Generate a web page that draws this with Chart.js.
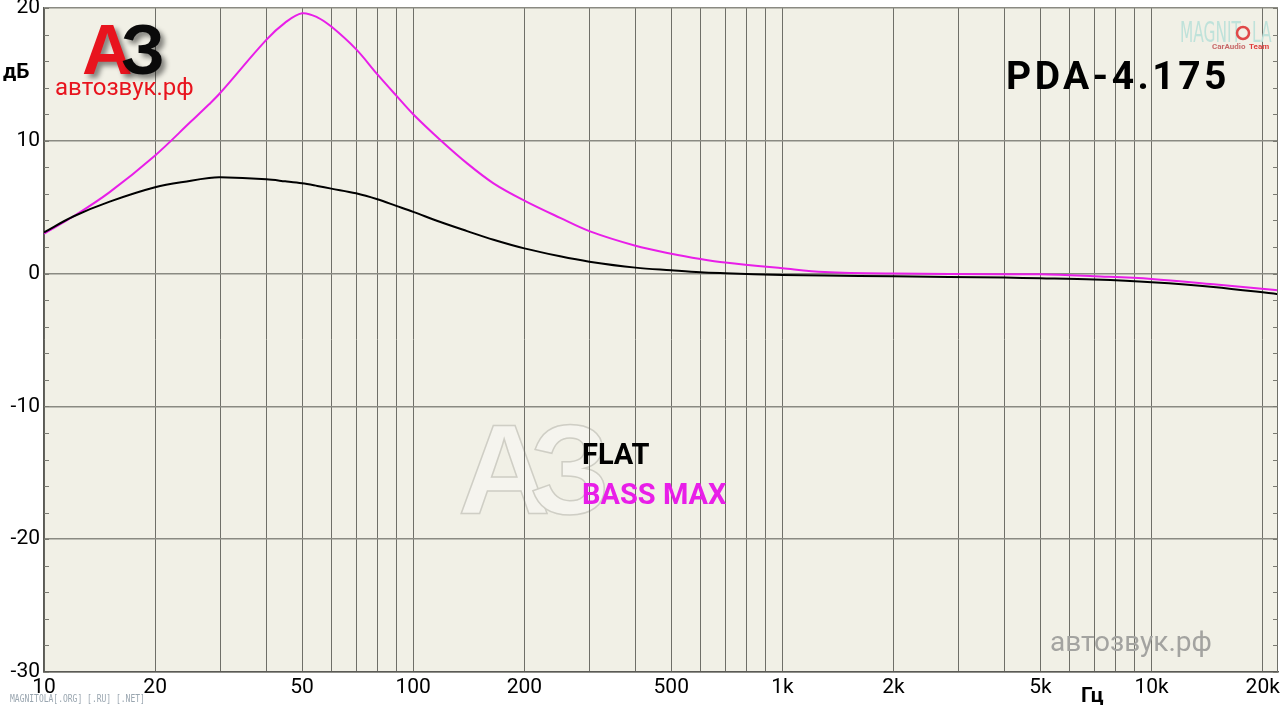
<!DOCTYPE html>
<html>
<head>
<meta charset="utf-8">
<script src="https://cdn.jsdelivr.net/npm/chart.js@4.4.1/dist/chart.umd.min.js"></script>
<style>
  html, body { margin: 0; padding: 0; background: #fff; }
  #wrap { width: 1280px; height: 708px; position: relative; }
</style>
</head>
<body>
<div id="wrap"><canvas id="fr"></canvas></div>
<script>
// Frequency response (Hz / dB)
const freqs = [10, 12, 15, 20, 25, 28, 30, 40, 45, 50, 55, 60, 70, 80, 90, 100, 118, 140, 165, 200,
               250, 300, 400, 500, 600, 700, 1000, 1300, 2000, 4000, 5000, 7000, 10000, 14700, 22000];
const flatDb = [3.1, 4.3, 5.4, 6.5, 7.0, 7.2, 7.25, 7.1, 6.95, 6.8, 6.6, 6.4, 6.05, 5.6, 5.1, 4.65, 3.9, 3.2, 2.55, 1.9,
                1.3, 0.9, 0.45, 0.25, 0.1, 0.03, -0.1, -0.15, -0.2, -0.3, -0.35, -0.45, -0.65, -1.0, -1.55];
const bassMaxDb = [3.0, 4.3, 6.1, 8.9, 11.45, 12.75, 13.6, 17.6, 18.9, 19.6, 19.3, 18.6, 16.9, 15.0, 13.4, 12.0, 10.1, 8.3, 6.8, 5.5,
                   4.2, 3.2, 2.1, 1.5, 1.1, 0.83, 0.4, 0.12, 0.0, -0.05, -0.05, -0.2, -0.4, -0.8, -1.25];

const xTickLabels = [10, 20, 50, 100, 200, 500, 1000, 2000, 5000, 10000, 20000];
const yTickLabels = [20, 10, 0, -10, -20, -30];
const seriesNames = ['FLAT', 'BASS MAX'];
const seriesColors = ['#000000', '#e81ee8'];

// vertical grid: every 1..9 multiple of each decade
const xGrid = [];
[10, 100, 1000, 10000].forEach(d => {
    for (let m = 1; m <= 9; m++) {
        if (d * m <= 20000) xGrid.push(d * m);
    }
});

function fmtHz(v) {
    return v >= 1000 ? (v / 1000) + 'k' : String(v);
}

const FONT = 'Roboto, "DejaVu Sans", sans-serif';

// background, watermark, minor ticks, captions
const decor = {
    id: 'decor',
    beforeDraw(chart) {
        const { ctx, chartArea: a } = chart;
        ctx.save();
        ctx.fillStyle = '#ffffff';
        ctx.fillRect(0, 0, chart.width, chart.height);
        ctx.fillStyle = '#f1f0e6';
        ctx.fillRect(a.left, a.top, a.right - a.left, a.bottom - a.top);

        // big faint A3 watermark
        ctx.font = 'bold 128px "Liberation Sans", Arial, sans-serif';
        ctx.textBaseline = 'alphabetic';
        ctx.lineWidth = 1.5;
        ctx.fillStyle = '#f5f4ee';
        ctx.strokeStyle = '#cfcec5';
        ctx.fillText('А', 458, 514);
        ctx.strokeText('А', 458, 514);
        ctx.fillText('З', 530, 514);
        ctx.strokeText('З', 530, 514);
        ctx.restore();
    },
    afterDatasetsDraw(chart) {
        const { ctx, chartArea: a, scales } = chart;
        ctx.save();
        // right border
        ctx.strokeStyle = '#6f6f68';
        ctx.lineWidth = 1;
        ctx.beginPath();
        ctx.moveTo(a.right - 0.5, a.top);
        ctx.lineTo(a.right - 0.5, a.bottom);
        ctx.stroke();
        // minor ticks every 2 dB
        ctx.strokeStyle = '#7a7a72';
        for (let v = -30; v <= 20; v += 2) {
            const y = Math.round(scales.y.getPixelForValue(v)) + 0.5;
            ctx.beginPath();
            ctx.moveTo(a.left, y);
            ctx.lineTo(a.left + 5, y);
            ctx.moveTo(a.right - 5, y);
            ctx.lineTo(a.right, y);
            ctx.stroke();
        }
        ctx.restore();
    },
    afterDraw(chart) {
        const ctx = chart.ctx;
        ctx.save();
        ctx.textBaseline = 'alphabetic';
        ctx.textAlign = 'left';

        // units
        ctx.fillStyle = '#000';
        ctx.font = 'bold 21px ' + FONT;
        ctx.fillText('дБ', 3, 78);
        ctx.fillText('Гц', 1081, 702);

        // model
        ctx.font = 'bold 39px ' + FONT;
        ctx.letterSpacing = '3.5px';
        ctx.fillText('PDA-4.175', 1006, 89);
        ctx.letterSpacing = '0px';

        // legend
        ctx.font = 'bold 29px ' + FONT;
        ctx.fillStyle = seriesColors[0];
        ctx.fillText(seriesNames[0], 582, 464);
        ctx.fillStyle = seriesColors[1];
        ctx.fillText(seriesNames[1], 582, 504);

        // A3 logo
        ctx.font = 'bold 70px "Liberation Sans", Arial, sans-serif';
        ctx.shadowColor = 'rgba(0,0,0,0.45)';
        ctx.shadowBlur = 5;
        ctx.shadowOffsetX = 4;
        ctx.shadowOffsetY = 4;
        ctx.fillStyle = '#e8141e';
        ctx.fillText('А', 82, 74);
        ctx.fillStyle = '#0a0a0a';
        ctx.fillText('З', 121, 74);
        ctx.shadowColor = 'transparent';
        ctx.font = '24px ' + FONT;
        ctx.fillStyle = '#e8141e';
        ctx.fillText('автозвук.рф', 55, 95);

        // lower right watermark
        ctx.font = '28px ' + FONT;
        ctx.fillStyle = '#a3a3a0';
        ctx.fillText('автозвук.рф', 1050, 651);

        // MAGNITOLA logo
        ctx.save();
        ctx.translate(1180, 42);
        ctx.scale(0.55, 1);
        ctx.font = '28px "DejaVu Sans", sans-serif';
        ctx.fillStyle = '#bfe2da';
        ctx.fillText('MAGNIT', 0, 0);
        ctx.fillText('LA', (1252 - 1180) / 0.55, 0);
        ctx.restore();
        ctx.strokeStyle = '#e04848';
        ctx.lineWidth = 2.5;
        ctx.beginPath();
        ctx.arc(1243, 33, 6, 0, Math.PI * 2);
        ctx.stroke();
        ctx.font = 'bold 8px ' + FONT;
        ctx.fillStyle = '#c86a6a';
        ctx.fillText('CarAudio', 1212, 49);
        ctx.fillStyle = '#e03c3c';
        ctx.fillText('Team', 1249, 49);

        // bottom left site line
        ctx.save();
        ctx.translate(10, 702);
        ctx.scale(0.8, 1);
        ctx.font = '10px "DejaVu Sans Mono", monospace';
        ctx.fillStyle = '#9aa6b0';
        ctx.fillText('MAGNITOLA[.ORG] [.RU] [.NET]', 0, 0);
        ctx.restore();
        ctx.restore();
    }
};

const ctx = document.getElementById('fr').getContext('2d');
new Chart(ctx, {
    type: 'line',
    data: {
        datasets: [{
            label: seriesNames[0],
            data: freqs.map((f, i) => ({ x: f, y: flatDb[i] })),
            borderColor: seriesColors[0],
            borderWidth: 2,
            pointRadius: 0,
            tension: 0.35
        }, {
            label: seriesNames[1],
            data: freqs.map((f, i) => ({ x: f, y: bassMaxDb[i] })),
            borderColor: seriesColors[1],
            borderWidth: 2,
            pointRadius: 0,
            tension: 0.35
        }]
    },
    options: {
        responsive: true,
        maintainAspectRatio: false,
        animation: false,
        layout: { padding: { top: 8, right: 2, left: 0, bottom: 0 } },
        plugins: {
            legend: { display: false },
            tooltip: { enabled: false }
        },
        scales: {
            x: {
                type: 'logarithmic',
                min: 10,
                max: 22000,
                afterBuildTicks: scale => {
                    scale.ticks = xGrid.map(v => ({ value: v }));
                },
                afterFit: scale => {
                    scale.height = 36;
                    scale.paddingLeft = 0;
                    scale.paddingRight = 0;
                },
                ticks: {
                    autoSkip: false,
                    maxRotation: 0,
                    padding: 3,
                    color: '#000',
                    font: { family: FONT, size: 21 },
                    callback: v => xTickLabels.includes(v) ? fmtHz(v) : ''
                },
                grid: { color: '#6f6f68', lineWidth: 1, drawTicks: false },
                border: { display: true, color: '#5a5a55', width: 1.5 }
            },
            y: {
                min: -30,
                max: 20,
                afterBuildTicks: scale => {
                    scale.ticks = yTickLabels.map(v => ({ value: v }));
                },
                afterFit: scale => {
                    scale.width = 44;
                    scale.paddingTop = 0;
                    scale.paddingBottom = 0;
                },
                ticks: {
                    padding: 4,
                    color: '#000',
                    font: { family: FONT, size: 21 }
                },
                grid: { color: '#8a8a82', lineWidth: 1.5, drawTicks: false },
                border: { display: true, color: '#5a5a55', width: 1.5 }
            }
        }
    },
    plugins: [decor]
});
</script>
</body>
</html>
